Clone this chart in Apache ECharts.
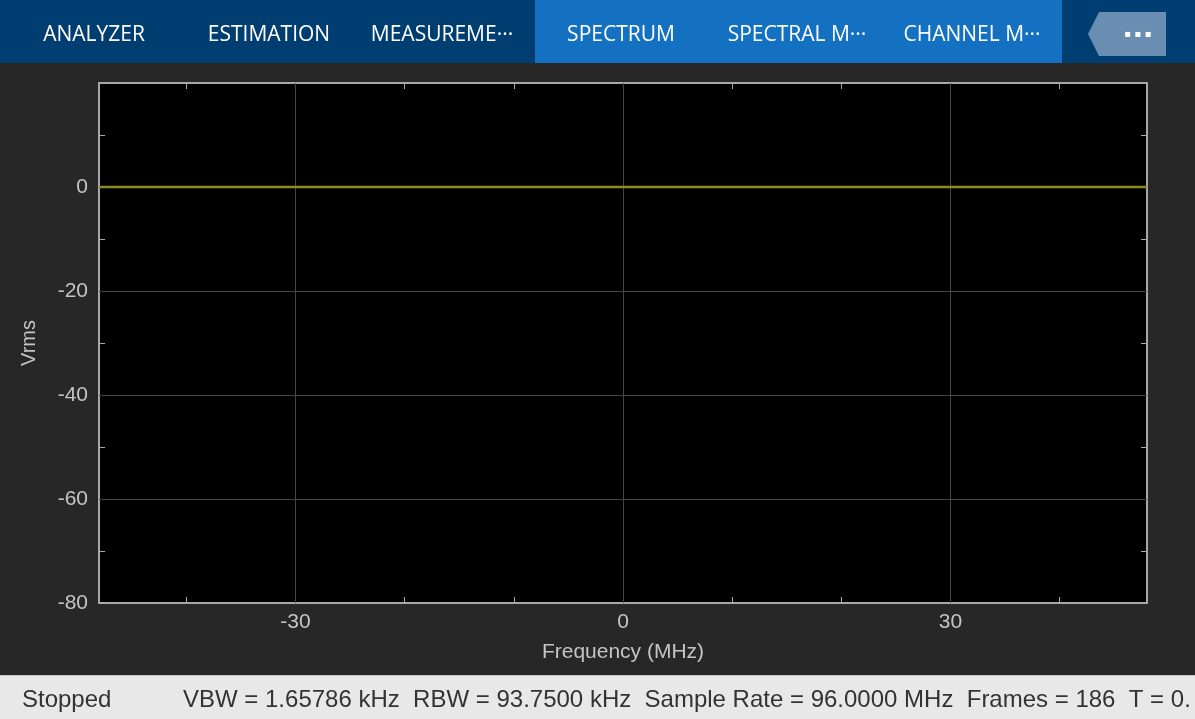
<!DOCTYPE html>
<html>
<head>
<meta charset="utf-8">
<script src="https://cdn.jsdelivr.net/npm/echarts@6/dist/echarts.min.js"></script>
<style>
html,body{margin:0;padding:0;background:#272727;}
#chart{width:1195px;height:719px;}
</style>
</head>
<body>
<div id="chart"></div>
<script>
// ---- data ----
const freqMHz = [-48, -30, 0, 30, 48];
const vrms = [0, 0, 0, 0, 0];
const xTickLabels = [-30, 0, 30];
const xMinorTicks = [-40, -30, -20, -10, 0, 10, 20, 30, 40];
const xGridLines = [-30, 0, 30];
const yGridLines = [-60, -40, -20, 0];
const tabs = ['ANALYZER', 'ESTIMATION', 'MEASUREME\u00b7\u00b7\u00b7', 'SPECTRUM', 'SPECTRAL M\u00b7\u00b7\u00b7', 'CHANNEL M\u00b7\u00b7\u00b7'];
const tabCenters = [94, 269, 442, 621, 797, 972];
const statusLeft = 'Stopped';
const statusRight = 'VBW = 1.65786 kHz  RBW = 93.7500 kHz  Sample Rate = 96.0000 MHz  Frames = 186  T = 0.';

const chart = echarts.init(document.getElementById('chart'));
const axisCol = '#a8a8a8';
const gridCol = '#474747';
const labelCol = '#c4c4c4';
const fontFam = 'Liberation Sans';

const graphics = [
  {type:'rect', shape:{x:0,y:0,width:1195,height:63}, style:{fill:'#003d70'}, z:0},
  {type:'rect', shape:{x:535,y:0,width:527,height:63}, style:{fill:'#1470c0'}, z:1},
  {type:'polygon', shape:{points:[[1099,12],[1166,12],[1166,56],[1099,56],[1088,34]]}, style:{fill:'#6a8db2'}, z:1},
  {type:'text', x:1138, y:34, style:{text:'\u25aa \u25aa \u25aa', fill:'#ffffff', font:'bold 10px "DejaVu Sans"', textAlign:'center', textVerticalAlign:'middle'}, z:2},
  {type:'rect', shape:{x:0,y:676,width:1195,height:43}, style:{fill:'#e8e8e8'}, z:0},
  {type:'rect', shape:{x:0,y:675,width:1195,height:1}, style:{fill:'#c8c8c8'}, z:0},
  {type:'text', x:22, y:700, style:{text:statusLeft, fill:'#333333', font:'24px "Liberation Sans"', textVerticalAlign:'middle'}, z:2},
  {type:'text', x:183, y:700, style:{text:statusRight, fill:'#333333', font:'24px "Liberation Sans"', textVerticalAlign:'middle'}, z:2}
];
tabs.forEach((t, i) => {
  graphics.push({type:'text', x:tabCenters[i], y:35, style:{text:t, fill:'#ffffff', font:'21px "Open Sans"', textAlign:'center', textVerticalAlign:'middle'}, z:2});
});

chart.setOption({
  backgroundColor:'#272727',
  animation:false,
  grid:{left:99, top:83, right:48, bottom:116, backgroundColor:'#000000', show:true, borderWidth:0},
  xAxis:[
    {type:'value', min:-48, max:48, position:'bottom',
     name:'Frequency (MHz)', nameLocation:'middle', nameGap:39,
     nameTextStyle:{color:labelCol, fontSize:21, fontFamily:fontFam},
     axisLine:{show:true, onZero:false, lineStyle:{color:axisCol, width:2}},
     axisTick:{show:true, inside:true, length:6, customValues:xMinorTicks, lineStyle:{color:axisCol}},
     axisLabel:{color:labelCol, fontSize:21, fontFamily:fontFam, margin:9, customValues:xTickLabels},
     splitLine:{show:false}},
    {type:'value', min:-48, max:48, position:'top',
     axisLine:{show:true, onZero:false, lineStyle:{color:axisCol, width:2}},
     axisTick:{show:true, inside:true, length:6, customValues:xMinorTicks, lineStyle:{color:axisCol}},
     axisLabel:{show:false}, splitLine:{show:false}}
  ],
  yAxis:[
    {type:'value', min:-80, max:20, interval:20, position:'left',
     name:'Vrms', nameLocation:'middle', nameGap:60, nameRotate:90,
     nameTextStyle:{color:labelCol, fontSize:20, fontFamily:fontFam},
     axisLine:{show:true, onZero:false, lineStyle:{color:axisCol, width:2}},
     axisTick:{show:true, inside:true, length:6, lineStyle:{color:axisCol}},
     minorTick:{show:true, splitNumber:2, length:6, lineStyle:{color:axisCol}},
     axisLabel:{color:labelCol, fontSize:21, fontFamily:fontFam, margin:11, showMaxLabel:false},
     splitLine:{show:false}},
    {type:'value', min:-80, max:20, interval:20, position:'right',
     axisLine:{show:true, onZero:false, lineStyle:{color:axisCol, width:2}},
     axisTick:{show:true, inside:true, length:6, lineStyle:{color:axisCol}},
     minorTick:{show:true, splitNumber:2, length:6, lineStyle:{color:axisCol}},
     axisLabel:{show:false}, splitLine:{show:false}}
  ],
  series:[{
    type:'line', xAxisIndex:0, yAxisIndex:0,
    data: freqMHz.map((f, i) => [f, vrms[i]]),
    showSymbol:false, z:5,
    lineStyle:{color:'#8c8c1c', width:2.5},
    markLine:{
      silent:true, symbol:'none', label:{show:false}, z:1,
      lineStyle:{color:gridCol, width:1, type:'solid'},
      data: xGridLines.map(v => ({xAxis:v})).concat(yGridLines.map(v => ({yAxis:v})))
    }
  }],
  graphic: graphics
});
</script>
</body>
</html>
